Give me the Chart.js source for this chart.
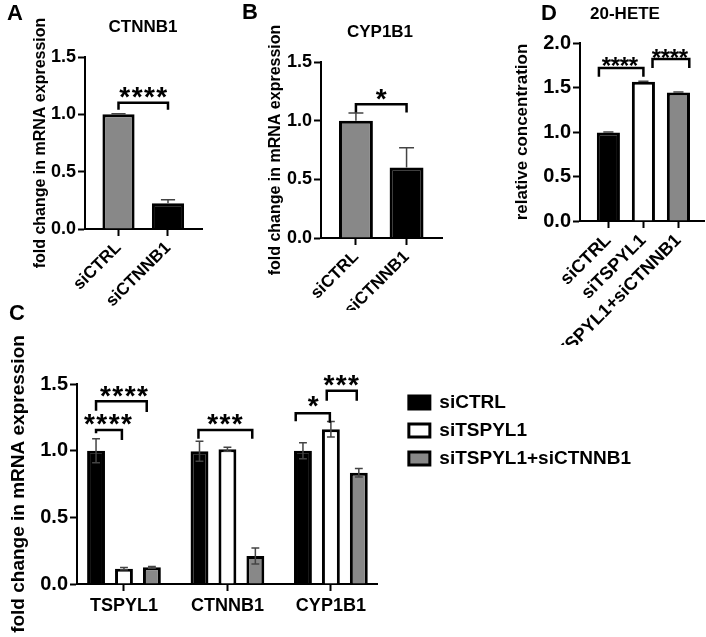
<!DOCTYPE html>
<html>
<head>
<meta charset="utf-8">
<script src="https://cdn.jsdelivr.net/npm/chart.js@4.4.0/dist/chart.umd.min.js"></script>
<style>
  html, body { margin: 0; padding: 0; background: #fff; }
  #wrap { position: relative; width: 706px; height: 637px; overflow: hidden; }
  canvas { position: absolute; }
</style>
</head>
<body>
<div id="wrap">
  <canvas id="chartA" width="240" height="310" style="left:0;top:0"></canvas>
  <canvas id="chartB" width="240" height="310" style="left:240px;top:0"></canvas>
  <canvas id="chartD" width="216" height="345" style="left:490px;top:0"></canvas>
  <canvas id="chartC" width="706" height="337" style="left:0;top:300px"></canvas>
</div>
<script>
// panel A / B groups
const groupsAB = ["siCTRL", "siCTNNB1"];
const ctnnb1Mean = [1.0, 0.225];
const ctnnb1Err = [0.004, 0.03];
const cyp1b1Mean = [1.0, 0.6];
const cyp1b1Err = [0.065, 0.17];

// panel D
const groupsD = ["siCTRL", "siTSPYL1", "siTSPYL1+siCTNNB1"];
const heteMean = [0.995, 1.565, 1.445];
const heteErr = [0.004, 0.006, 0.005];

// panel C
const genesC = ["TSPYL1", "CTNNB1", "CYP1B1"];
const seriesC = ["siCTRL", "siTSPYL1", "siTSPYL1+siCTNNB1"];
const ctrlMean = [1.0, 0.995, 1.0];
const ctrlErr = [0.09, 0.075, 0.06];
const tspyl1Mean = [0.115, 1.01, 1.16];
const tspyl1Err = [0.008, 0.015, 0.058];
const comboMean = [0.125, 0.21, 0.835];
const comboErr = [0.006, 0.06, 0.032];

const yTicks15 = [0, 0.5, 1.0, 1.5];
const yTicks20 = [0, 0.5, 1.0, 1.5, 2.0];

// significance brackets (x in group index units, y in data units)
const sigA = [{ from: 0, to: 1, at: 1.10, legFrom: 1.04, legTo: 1.04, stars: 4, textAt: 0.5, textY: 1.21 }];
const sigB = [{ from: 0, to: 1, at: 1.14, legFrom: 1.07, legTo: 1.07, stars: 1, textAt: 0.5, textY: 1.24 }];
const sigD = [
  { from: -0.27, to: 1, at: 1.72, legFrom: 1.62, legTo: 1.62, stars: 4, textAt: 0.33, textY: 1.81 },
  { from: 1.26, to: 2.31, at: 1.82, legFrom: 1.72, legTo: 1.72, stars: 4, textAt: 1.76, textY: 1.90 }
];
const sigC = [
  { from: -0.27, to: -0.02, at: 1.155, legFrom: 1.13, legTo: 1.08, stars: 4, textAt: -0.155, textY: 1.25 },
  { from: -0.27, to: 0.22, at: 1.37, legFrom: 1.30, legTo: 1.29, stars: 4, textAt: 0.0, textY: 1.46 },
  { from: 0.72, to: 1.24, at: 1.155, legFrom: 1.09, legTo: 1.09, stars: 3, textAt: 0.976, textY: 1.25 },
  { from: 1.66, to: 1.99, at: 1.28, legFrom: 1.22, legTo: 1.21, stars: 1, textAt: 1.83, textY: 1.39 },
  { from: 1.96, to: 2.25, at: 1.45, legFrom: 1.375, legTo: 1.375, stars: 3, textAt: 2.1, textY: 1.545 }
];

const FONT = '"Liberation Sans", Arial, sans-serif';
const BLACK = "#000000";
const WHITE = "#ffffff";
const GREY = "#888888";

Chart.defaults.font.family = FONT;
Chart.defaults.color = BLACK;
Chart.defaults.animation = false;

function drawStars(ctx, n, cx, cy, size, gap) {
  ctx.font = "bold " + size + "px " + FONT;
  ctx.textAlign = "center";
  ctx.textBaseline = "alphabetic";
  const base = cy + size * 0.57;
  for (let k = 0; k < n; k++) {
    ctx.fillText("*", cx + (k - (n - 1) / 2) * gap, base);
  }
}

const decor = {
  id: "decor",
  afterDatasetsDraw(chart, args, o) {
    const { ctx } = chart;
    const x = chart.scales.x, y = chart.scales.y;
    ctx.save();
    // error bars
    ctx.strokeStyle = "#444";
    ctx.lineWidth = 1.5;
    (o.errors || []).forEach((errs, di) => {
      const ds = chart.data.datasets[di];
      chart.getDatasetMeta(di).data.forEach((bar, i) => {
        const v = ds.data[i].y, e = errs[i];
        const yt = y.getPixelForValue(v + e);
        const yb = y.getPixelForValue(o.twoSided ? v - e : v);
        const hw = bar.width * 0.22;
        ctx.beginPath();
        ctx.moveTo(bar.x, yb); ctx.lineTo(bar.x, yt);
        ctx.moveTo(bar.x - hw, yt); ctx.lineTo(bar.x + hw, yt);
        if (o.twoSided) { ctx.moveTo(bar.x - hw, yb); ctx.lineTo(bar.x + hw, yb); }
        ctx.stroke();
      });
    });
    // brackets
    ctx.strokeStyle = BLACK;
    ctx.fillStyle = BLACK;
    ctx.lineWidth = 2.5;
    (o.brackets || []).forEach(b => {
      const x1 = x.getPixelForValue(b.from), x2 = x.getPixelForValue(b.to);
      const yb = y.getPixelForValue(b.at);
      ctx.beginPath();
      ctx.moveTo(x1, y.getPixelForValue(b.legFrom));
      ctx.lineTo(x1, yb);
      ctx.lineTo(x2, yb);
      ctx.lineTo(x2, y.getPixelForValue(b.legTo));
      ctx.stroke();
      drawStars(ctx, b.stars, x.getPixelForValue(b.textAt), y.getPixelForValue(b.textY), o.starSize, o.starGap);
    });
    ctx.restore();
  },
  afterDraw(chart, args, o) {
    const { ctx } = chart;
    ctx.save();
    ctx.fillStyle = BLACK;
    ctx.textAlign = "center";
    ctx.textBaseline = "middle";
    ctx.font = "bold 22px " + FONT;
    ctx.fillText(o.letter, o.letterX, o.letterY);
    if (o.title) {
      ctx.font = "bold " + o.titleSize + "px " + FONT;
      ctx.fillText(o.title, o.titleX, o.titleY);
    }
    ctx.restore();
  }
};

function points(values) {
  return values.map((v, i) => ({ x: i, y: v }));
}

function xScale(labels, min, max, size, rot, height, pad) {
  return {
    type: "linear",
    min: min,
    max: max,
    offset: false,
    afterBuildTicks: s => { s.ticks = labels.map((_, i) => ({ value: i })); },
    afterFit: s => { s.height = height; },
    ticks: {
      autoSkip: false,
      maxRotation: rot,
      minRotation: rot,
      padding: pad,
      color: BLACK,
      font: { size: size, weight: "bold" },
      callback: v => labels[v]
    },
    grid: { offset: false, drawOnChartArea: false, tickLength: 7, tickColor: BLACK, tickWidth: 2 },
    border: { color: BLACK, width: 2 }
  };
}

function yScale(tickVals, title, titleSize, tickSize, width) {
  return {
    min: tickVals[0],
    max: tickVals[tickVals.length - 1],
    afterBuildTicks: s => { s.ticks = tickVals.map(v => ({ value: v })); },
    afterFit: s => { s.width = width; },
    ticks: {
      padding: 2,
      color: BLACK,
      font: { size: tickSize, weight: "bold" },
      callback: v => v.toFixed(1)
    },
    title: {
      display: true,
      text: title,
      color: BLACK,
      padding: { top: 1, bottom: 0 },
      font: { size: titleSize, weight: "bold", lineHeight: 1.2 }
    },
    grid: { drawOnChartArea: false, tickLength: 7, tickColor: BLACK, tickWidth: 2 },
    border: { color: BLACK, width: 2 }
  };
}

function barSet(label, values, color, barPct, catPct) {
  return {
    label: label,
    data: points(values),
    backgroundColor: color,
    borderColor: BLACK,
    borderWidth: 3,
    barPercentage: barPct,
    categoryPercentage: catPct
  };
}

// Panel A
new Chart(document.getElementById("chartA"), {
  type: "bar",
  data: { datasets: [barSet("CTNNB1", ctnnb1Mean, [GREY, BLACK], 0.65, 1)] },
  options: {
    responsive: false,
    layout: { padding: { left: 30, right: 38, top: 57, bottom: 0 } },
    scales: {
      x: xScale(groupsAB, -0.677, 1.687, 17, 45, 81, 2),
      y: yScale(yTicks15, "fold change in mRNA expression", 16, 18, 55)
    },
    plugins: {
      legend: { display: false },
      tooltip: { enabled: false },
      decor: {
        errors: [ctnnb1Err], twoSided: false, brackets: sigA, starSize: 28, starGap: 12.3,
        letter: "A", letterX: 15, letterY: 14, title: "CTNNB1", titleX: 143, titleY: 27, titleSize: 17
      }
    }
  },
  plugins: [decor]
});

// Panel B
new Chart(document.getElementById("chartB"), {
  type: "bar",
  data: { datasets: [barSet("CYP1B1", cyp1b1Mean, [GREY, BLACK], 0.67, 1)] },
  options: {
    responsive: false,
    layout: { padding: { left: 25, right: 38, top: 62, bottom: 0 } },
    scales: {
      x: xScale(groupsAB, -0.69, 1.70, 17, 45, 72, 2),
      y: yScale(yTicks15, "fold change in mRNA expression", 16, 18, 56)
    },
    plugins: {
      legend: { display: false },
      tooltip: { enabled: false },
      decor: {
        errors: [cyp1b1Err], twoSided: false, brackets: sigB, starSize: 28, starGap: 12.3,
        letter: "B", letterX: 10, letterY: 13, title: "CYP1B1", titleX: 140, titleY: 32, titleSize: 17
      }
    }
  },
  plugins: [decor]
});

// Panel D
new Chart(document.getElementById("chartD"), {
  type: "bar",
  data: { datasets: [barSet("20-HETE", heteMean, [BLACK, WHITE, GREY], 0.66, 1)] },
  options: {
    responsive: false,
    layout: { padding: { left: 21, right: 2, top: 43, bottom: 0 } },
    scales: {
      x: xScale(groupsD, -0.81, 2.73, 18, 45, 124, 2),
      y: yScale(yTicks20, "relative concentration", 17, 20, 69)
    },
    plugins: {
      legend: { display: false },
      tooltip: { enabled: false },
      decor: {
        errors: [heteErr], twoSided: false, brackets: sigD, starSize: 24, starGap: 9,
        letter: "D", letterX: 59, letterY: 14, title: "20-HETE", titleX: 135, titleY: 14, titleSize: 17
      }
    }
  },
  plugins: [decor]
});

// Panel C
new Chart(document.getElementById("chartC"), {
  type: "bar",
  data: {
    datasets: [
      barSet(seriesC[0], ctrlMean, BLACK, 0.64, 0.81),
      barSet(seriesC[1], tspyl1Mean, WHITE, 0.64, 0.81),
      barSet(seriesC[2], comboMean, GREY, 0.64, 0.81)
    ]
  },
  options: {
    responsive: false,
    layout: { padding: { left: 6, right: 65, top: 84, bottom: 0 } },
    scales: {
      x: xScale(genesC, -0.454, 2.454, 18, 0, 53, 4),
      y: yScale(yTicks15, "fold change in mRNA expression", 19, 20, 71),
      gap: {
        type: "linear", position: "right", display: true,
        grid: { display: false }, border: { display: false }, ticks: { display: false },
        afterFit: s => { s.width = 22; }
      }
    },
    plugins: {
      legend: {
        display: true,
        position: "right",
        align: "start",
        maxWidth: 320,
        labels: { boxWidth: 21, boxHeight: 13, padding: 9, color: BLACK, font: { size: 19, weight: "bold" } }
      },
      tooltip: { enabled: false },
      decor: {
        errors: [ctrlErr, tspyl1Err, comboErr], twoSided: true, brackets: sigC, starSize: 28, starGap: 12.3,
        letter: "C", letterX: 17, letterY: 14
      }
    }
  },
  plugins: [decor]
});
</script>
</body>
</html>
